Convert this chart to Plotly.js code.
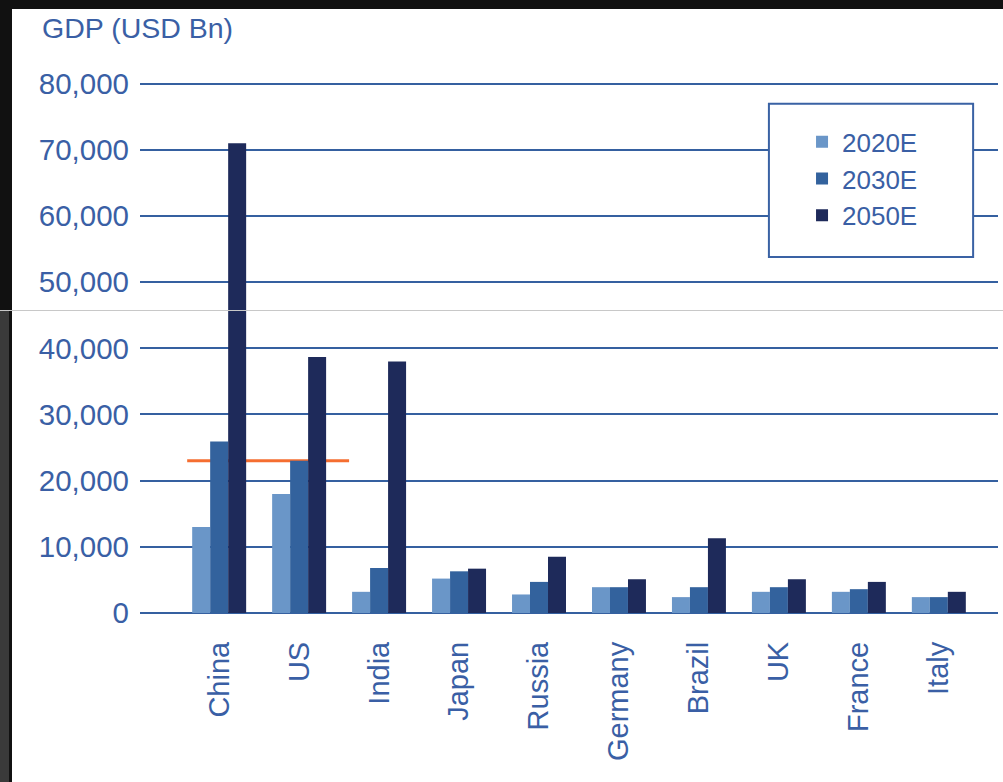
<!DOCTYPE html>
<html>
<head>
<meta charset="utf-8">
<script src="https://cdn.plot.ly/plotly-3.0.1.min.js"></script>
<style>
  html, body { margin: 0; padding: 0; width: 1003px; height: 782px; overflow: hidden; background: #111; }
  #leftband { position: absolute; left: 0; top: 310px; width: 9px; height: 472px; background: #3a3a3a; }
  #chart { position: absolute; left: 12px; top: 9px; width: 991px; height: 773px; background: #fff; }
  #stitch { position: absolute; left: 0; top: 310px; width: 1003px; height: 1px; background: #c8c8c8; z-index: 5; }
</style>
</head>
<body>
<div id="leftband"></div>
<div id="chart"></div>
<div id="stitch"></div>
<script>
const categories = ['China', 'US', 'India', 'Japan', 'Russia', 'Germany', 'Brazil', 'UK', 'France', 'Italy'];
const seriesNames = ['2020E', '2030E', '2050E'];
const gdp2020 = [13000, 18000, 3200, 5200, 2800, 3900, 2400, 3200, 3200, 2400];
const gdp2030 = [25900, 23000, 6800, 6300, 4700, 3900, 3900, 3900, 3600, 2400];
const gdp2050 = [71000, 38700, 38000, 6700, 8500, 5100, 11300, 5100, 4700, 3200];
const yTickVals = [0, 10000, 20000, 30000, 40000, 50000, 60000, 70000, 80000];
const yTitle = 'GDP (USD Bn)';
const refLevel = gdp2030[categories.indexOf('US')];

const colors = ['#6A96C8', '#33629D', '#1E2A5A'];
const textColor = '#3A5FA5';
const gridColor = '#3560A0';
const fontFamily = '"Liberation Sans", Arial, sans-serif';

const series = [gdp2020, gdp2030, gdp2050];
const traces = series.map((vals, i) => ({
  type: 'bar',
  name: seriesNames[i],
  x: categories,
  y: vals,
  marker: { color: colors[i], line: { width: 0 } },
  hoverinfo: 'skip'
}));

const layout = {
  width: 991,
  height: 773,
  margin: { l: 128, r: 5, t: 68, b: 169, pad: 0 },
  paper_bgcolor: '#ffffff',
  plot_bgcolor: '#ffffff',
  barmode: 'group',
  bargap: 0.325,
  bargroupgap: 0,
  font: { family: fontFamily, color: textColor, size: 28 },
  showlegend: true,
  legend: {
    x: 0.7716, y: 0.923, xanchor: 'left', yanchor: 'top',
    bgcolor: 'rgba(0,0,0,0)', borderwidth: 0,
    font: { family: fontFamily, size: 26, color: textColor },
    traceorder: 'normal'
  },
  xaxis: {
    type: 'category',
    range: [-0.99, 9.74],
    tickangle: -90,
    tickfont: { family: fontFamily, size: 29, color: textColor },
    ticklabelstandoff: 22,
    showgrid: false,
    zeroline: false,
    showline: false,
    ticks: '',
    fixedrange: true
  },
  yaxis: {
    range: [0, 81000],
    tickvals: yTickVals,
    tickformat: ',d',
    tickfont: { family: fontFamily, size: 29.5, color: textColor },
    ticklabelstandoff: 10,
    showgrid: true,
    gridcolor: gridColor,
    gridwidth: 2,
    zeroline: true,
    zerolinecolor: gridColor,
    zerolinewidth: 2,
    showline: false,
    ticks: '',
    fixedrange: true
  },
  shapes: [
    {
      type: 'line', xref: 'x', yref: 'y', layer: 'below',
      x0: -0.4, x1: 1.625, y0: refLevel, y1: refLevel,
      line: { color: '#F56E30', width: 3 }
    },
    {
      type: 'rect', xref: 'paper', yref: 'paper', layer: 'above',
      x0: 0.733, x1: 0.971, y0: 0.664, y1: 0.950,
      fillcolor: '#ffffff',
      line: { color: '#3A62A4', width: 2 }
    }
  ],
  annotations: [
    {
      text: yTitle, xref: 'paper', yref: 'paper',
      x: -0.1165, y: 1.0915, xanchor: 'left', yanchor: 'middle',
      showarrow: false,
      font: { family: fontFamily, size: 28.5, color: textColor }
    }
  ]
};

Plotly.newPlot('chart', traces, layout, { displayModeBar: false, staticPlot: true });
</script>
</body>
</html>
